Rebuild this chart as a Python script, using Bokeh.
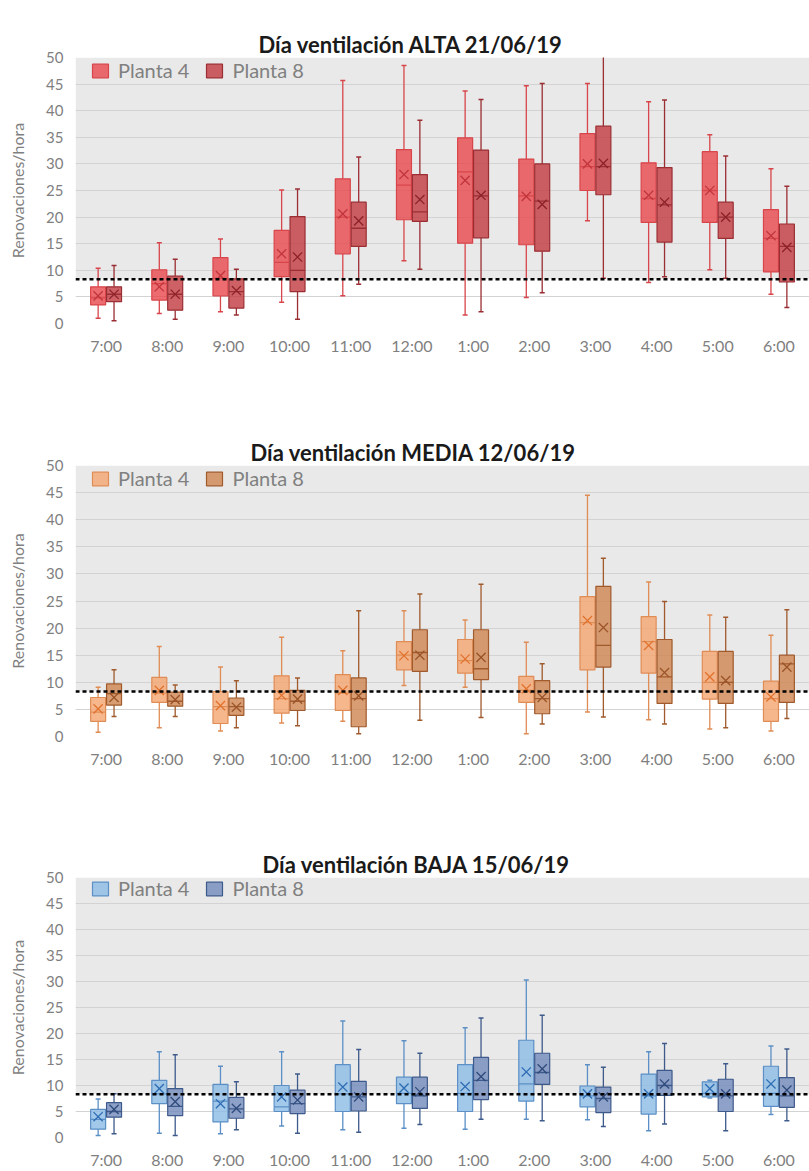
from bokeh.plotting import figure
from bokeh.models import (ColumnDataSource, FactorRange, Range1d, FixedTicker,
                          BoxAnnotation, Span, Legend, LegendItem, Title)
from bokeh.transform import dodge
from bokeh.layouts import column
from bokeh.embed import file_html
from bokeh.resources import INLINE

hours = ["7:00", "8:00", "9:00", "10:00", "11:00", "12:00",
         "1:00", "2:00", "3:00", "4:00", "5:00", "6:00"]
y_ticks = [0, 5, 10, 15, 20, 25, 30, 35, 40, 45, 50]
threshold = 8.3
series_names = ["Planta 4", "Planta 8"]

# ---- ALTA 21/06/19 ----
alta_p4_lo = [1.0, 1.9, 2.2, 4.0, 5.2, 11.8, 1.6, 4.9, 19.3, 7.7, 10.1, 5.5]
alta_p4_q1 = [3.5, 4.4, 5.2, 8.8, 13.1, 19.5, 15.1, 14.8, 25.0, 19.0, 19.0, 9.7]
alta_p4_med = [4.8, 7.5, 8.5, 11.5, 20.0, 26.0, 28.5, 24.0, 29.5, 23.5, 25.0, 16.0]
alta_p4_mean = [5.2, 6.9, 9.0, 13.1, 20.6, 28.0, 26.9, 23.9, 30.0, 24.1, 25.0, 16.5]
alta_p4_q3 = [6.9, 10.1, 12.4, 17.5, 27.2, 32.7, 34.9, 30.9, 35.7, 30.2, 32.3, 21.4]
alta_p4_hi = [10.4, 15.2, 15.9, 25.1, 45.7, 48.5, 43.7, 44.7, 45.1, 41.7, 35.5, 29.1]

alta_p8_lo = [0.5, 0.8, 1.6, 0.8, 7.4, 10.2, 2.2, 5.8, 8.5, 8.8, 8.5, 3.0]
alta_p8_q1 = [4.1, 2.5, 2.9, 6.0, 14.5, 19.2, 16.1, 13.6, 24.2, 15.3, 16.0, 7.8]
alta_p8_med = [5.5, 5.5, 6.0, 10.0, 17.9, 21.0, 24.0, 23.0, 29.5, 22.3, 20.0, 14.5]
alta_p8_mean = [5.5, 5.5, 6.2, 12.5, 19.3, 23.3, 24.1, 22.4, 30.1, 22.8, 20.0, 14.3]
alta_p8_q3 = [6.9, 8.9, 8.4, 20.1, 22.8, 28.0, 32.6, 30.0, 37.1, 29.3, 22.8, 18.7]
alta_p8_hi = [10.9, 12.1, 10.2, 25.3, 31.3, 38.2, 42.1, 45.1, 50.5, 42.0, 31.5, 25.8]

# ---- MEDIA 12/06/19 ----
media_p4_lo = [0.8, 1.6, 1.0, 2.5, 2.8, 9.4, 9.1, 0.5, 4.5, 3.1, 1.4, 1.0]
media_p4_q1 = [2.8, 6.3, 2.4, 4.3, 4.8, 12.3, 11.7, 6.3, 12.3, 11.7, 6.9, 2.8]
media_p4_med = [4.5, 8.0, 5.5, 7.0, 8.0, 15.0, 14.0, 8.5, 21.0, 17.5, 10.0, 7.0]
media_p4_mean = [5.1, 8.5, 5.7, 7.6, 8.5, 14.9, 14.3, 8.8, 21.4, 16.8, 11.0, 7.3]
media_p4_q3 = [7.2, 10.9, 8.3, 11.2, 11.4, 17.5, 17.9, 11.1, 25.8, 22.1, 15.7, 10.2]
media_p4_hi = [9.1, 16.6, 12.8, 18.3, 15.8, 23.2, 21.5, 17.4, 44.5, 28.5, 22.4, 18.7]

media_p8_lo = [3.7, 3.7, 1.6, 2.0, 0.5, 3.0, 3.5, 2.3, 3.6, 2.3, 1.6, 3.3]
media_p8_q1 = [5.8, 5.6, 3.9, 4.8, 1.8, 12.0, 10.5, 4.2, 12.8, 6.1, 6.1, 6.3]
media_p8_med = [7.9, 6.5, 5.5, 6.5, 7.0, 15.5, 12.5, 7.0, 16.8, 11.0, 10.0, 13.4]
media_p8_mean = [7.2, 6.8, 5.4, 6.9, 7.5, 15.0, 14.6, 7.2, 20.1, 11.8, 10.3, 12.8]
media_p8_q3 = [9.7, 8.2, 7.1, 8.5, 10.8, 19.7, 19.7, 10.3, 27.7, 17.9, 15.7, 15.0]
media_p8_hi = [12.3, 9.5, 10.3, 10.8, 23.2, 26.3, 28.1, 13.4, 32.9, 24.9, 22.0, 23.4]

# ---- BAJA 15/06/19 ----
baja_p4_lo = [0.4, 0.8, 0.7, 2.2, 1.5, 1.8, 1.6, 3.5, 3.4, 1.3, 7.6, 4.4]
baja_p4_q1 = [1.6, 6.5, 3.0, 5.0, 5.0, 6.5, 5.0, 7.0, 5.9, 4.5, 7.8, 6.0]
baja_p4_med = [3.5, 8.4, 7.0, 5.9, 8.4, 8.5, 8.5, 10.3, 8.0, 8.0, 8.5, 8.5]
baja_p4_mean = [4.0, 9.4, 6.5, 7.8, 9.7, 9.5, 9.8, 12.6, 8.4, 8.4, 9.4, 10.3]
baja_p4_q3 = [5.4, 11.0, 10.2, 10.0, 14.0, 11.6, 14.0, 18.7, 9.9, 12.2, 10.7, 13.7]
baja_p4_hi = [7.4, 16.5, 13.7, 16.5, 22.4, 18.6, 21.1, 30.3, 14.0, 16.5, 11.0, 17.6]

baja_p8_lo = [0.7, 0.4, 1.5, 0.8, 1.0, 2.5, 3.5, 3.2, 2.1, 2.6, 1.3, 3.2]
baja_p8_q1 = [3.9, 4.2, 3.7, 4.6, 5.1, 5.6, 7.3, 10.2, 4.8, 8.1, 5.0, 5.8]
baja_p8_med = [5.0, 6.0, 5.5, 6.5, 7.8, 8.0, 11.0, 12.5, 7.5, 10.0, 8.0, 8.0]
baja_p8_mean = [5.4, 6.9, 5.6, 7.2, 7.8, 8.8, 11.7, 13.2, 7.8, 10.3, 8.4, 9.1]
baja_p8_q3 = [6.7, 9.4, 7.7, 9.1, 10.8, 11.6, 15.4, 16.2, 9.7, 12.9, 11.2, 11.5]
baja_p8_hi = [8.4, 15.9, 10.7, 12.2, 16.9, 16.2, 23.0, 23.5, 13.5, 18.1, 14.2, 17.0]

FONT = "Lato"
BOX_W = 0.245
OFFS = [-0.13, 0.13]


def make_src(lo, q1, med, mean, q3, hi):
    return ColumnDataSource(dict(hour=hours, lo=lo, q1=q1, med=med,
                                 mean=mean, q3=q3, hi=hi))


def panel(title, title_offset, srcs, styles, height, b_top, b_bottom):
    frame_h = height - b_top - b_bottom
    p = figure(x_range=FactorRange(*hours), y_range=Range1d(0, 50),
               width=809, height=height, output_backend="svg",
               toolbar_location=None, title=None,
               min_border_left=75, min_border_right=0,
               min_border_top=b_top, min_border_bottom=b_bottom)
    # transparent spacer next to the frame, then the real title above it
    spacer = Title(text=".", text_font_size="4px", text_alpha=0,
                   standoff=b_top - 41)
    p.add_layout(spacer, "above")
    ttl = Title(text=title, align="left", offset=title_offset,
                text_font=FONT, text_font_style="bold",
                text_font_size="22px", text_color="#1a1a1a", standoff=0)
    p.add_layout(ttl, "above")

    p.background_fill_color = "white"
    p.border_fill_color = "white"
    p.outline_line_color = None

    band = BoxAnnotation(bottom=threshold, top=50, fill_color="#E9E9E9",
                         fill_alpha=1.0, line_color=None, level="image")
    p.add_layout(band)

    p.xgrid.visible = False
    p.ygrid.ticker = FixedTicker(ticks=y_ticks)
    p.ygrid.grid_line_color = "#D3D3D3"
    p.ygrid.grid_line_width = 1.2

    p.yaxis.ticker = FixedTicker(ticks=y_ticks)
    p.yaxis.axis_label = "Renovaciones/hora"
    p.yaxis.axis_label_text_font = FONT
    p.yaxis.axis_label_text_font_style = "normal"
    p.yaxis.axis_label_text_font_size = "16px"
    p.yaxis.axis_label_text_color = "#7F7F7F"
    p.yaxis.axis_label_standoff = 16
    for ax in (p.xaxis, p.yaxis):
        ax.axis_line_color = None
        ax.major_tick_line_color = None
        ax.minor_tick_line_color = None
        ax.major_tick_out = 0
        ax.major_tick_in = 0
        ax.minor_tick_out = 0
        ax.minor_tick_in = 0
        ax.major_label_text_font = FONT
        ax.major_label_text_color = "#7F7F7F"
    p.yaxis.major_label_text_font_size = "15px"
    p.yaxis.major_label_standoff = 12
    p.xaxis.major_label_text_font_size = "16px"
    p.xaxis.major_label_standoff = 12

    renderers = []
    for src, off, (fill, line, mark) in zip(srcs, OFFS, styles):
        xc = dodge("hour", off, range=p.x_range)
        xl = dodge("hour", off - BOX_W / 2, range=p.x_range)
        xr = dodge("hour", off + BOX_W / 2, range=p.x_range)
        p.segment(x0=xc, y0="lo", x1=xc, y1="q1", source=src,
                  line_color=line, line_width=1.3)
        p.segment(x0=xc, y0="q3", x1=xc, y1="hi", source=src,
                  line_color=line, line_width=1.3)
        p.scatter(x=xc, y="lo", source=src, marker="dash", size=5,
                  line_color=line, line_width=1.5)
        p.scatter(x=xc, y="hi", source=src, marker="dash", size=5,
                  line_color=line, line_width=1.5)
        r = p.vbar(x=xc, width=BOX_W, bottom="q1", top="q3", source=src,
                   fill_color=fill, fill_alpha=0.8, line_color=line,
                   line_width=1.2)
        p.segment(x0=xl, y0="med", x1=xr, y1="med", source=src,
                  line_color=line, line_width=1.3)
        p.scatter(x=xc, y="mean", source=src, marker="x", size=13,
                  line_color=mark, line_width=1.3)
        renderers.append(r)

    p.add_layout(Span(location=threshold, dimension="width",
                      line_color="black", line_dash="4 3", line_width=2.5))

    legend = Legend(items=[LegendItem(label=n, renderers=[r])
                           for n, r in zip(series_names, renderers)],
                    orientation="horizontal", location=(15, frame_h - 25),
                    label_text_font=FONT, label_text_font_size="20px",
                    label_text_color="#808080", glyph_width=20,
                    glyph_height=17, label_standoff=8, spacing=15,
                    padding=0, margin=0, border_line_color=None,
                    background_fill_alpha=0)
    p.add_layout(legend)
    return p


p1 = panel("Día ventilación ALTA 21/06/19", 183,
           [make_src(alta_p4_lo, alta_p4_q1, alta_p4_med, alta_p4_mean, alta_p4_q3, alta_p4_hi),
            make_src(alta_p8_lo, alta_p8_q1, alta_p8_med, alta_p8_mean, alta_p8_q3, alta_p8_hi)],
           [("#E8474C", "#D8454A", "#C0353B"), ("#C23A40", "#9A2E33", "#8B2228")],
           409, 57, 86)
p2 = panel("Día ventilación MEDIA 12/06/19", 175,
           [make_src(media_p4_lo, media_p4_q1, media_p4_med, media_p4_mean, media_p4_q3, media_p4_hi),
            make_src(media_p8_lo, media_p8_q1, media_p8_med, media_p8_mean, media_p8_q3, media_p8_hi)],
           [("#F5A571", "#E08C55", "#E0722E"), ("#D08550", "#A05A2C", "#9A5327")],
           410, 56, 83)
p3 = panel("Día ventilación BAJA 15/06/19", 187,
           [make_src(baja_p4_lo, baja_p4_q1, baja_p4_med, baja_p4_mean, baja_p4_q3, baja_p4_hi),
            make_src(baja_p8_lo, baja_p8_q1, baja_p8_med, baja_p8_mean, baja_p8_q3, baja_p8_hi)],
           [("#8BBAE5", "#5B8FC6", "#2E6DB4"), ("#7089BC", "#3E5A8A", "#2F4B7C")],
           352, 58, 32)

layout = column(p1, p2, p3)
open("out.html", "w").write(file_html(layout, INLINE))
